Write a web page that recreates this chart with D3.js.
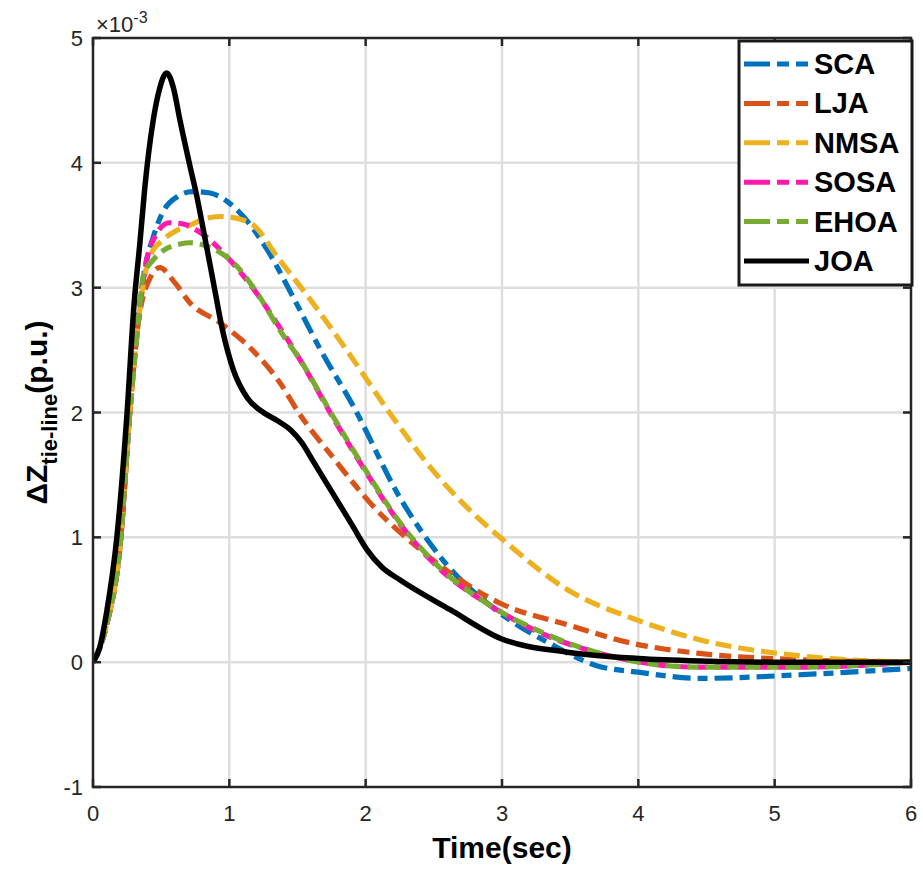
<!DOCTYPE html>
<html>
<head>
<meta charset="utf-8">
<script src="https://cdn.jsdelivr.net/npm/d3@7"></script>
<style>
  body { margin: 0; background: #fff; }
  text { font-family: "Liberation Sans", Arial, sans-serif; }
</style>
</head>
<body>
<svg id="chart" width="923" height="870"></svg>
<script>
// ---- data (values in units of 1e-3 p.u.) ----
var seriesNames = ["SCA", "LJA", "NMSA", "SOSA", "EHOA", "JOA"];
var seriesColors = ["#0072BD", "#D95319", "#EDB120", "#FF1AAE", "#77AC30", "#000000"];

var scaT = [0, 0.1, 0.2, 0.27, 0.33, 0.38, 0.44, 0.52, 0.62, 0.73, 0.85, 1.06, 1.28, 1.47, 1.67, 1.91, 2.25, 2.55, 2.99, 3.35, 3.7, 4.0, 4.45, 5.2, 6];
var scaV = [0, 0.3, 0.95, 2.0, 2.75, 3.15, 3.4, 3.62, 3.73, 3.77, 3.76, 3.62, 3.30, 2.92, 2.50, 2.05, 1.32, 0.84, 0.39, 0.15, -0.03, -0.08, -0.13, -0.10, -0.05];

var ljaT = [0, 0.1, 0.2, 0.27, 0.33, 0.42, 0.49, 0.6, 0.71, 0.93, 1.17, 1.37, 1.52, 1.76, 2.08, 2.38, 2.69, 2.99, 3.48, 3.96, 4.45, 5.19, 6];
var ljaV = [0, 0.3, 0.95, 2.0, 2.7, 3.08, 3.16, 3.04, 2.88, 2.72, 2.5, 2.24, 1.98, 1.64, 1.22, 0.92, 0.66, 0.47, 0.30, 0.15, 0.07, 0.02, 0];

var nmsaT = [0, 0.1, 0.2, 0.27, 0.33, 0.38, 0.43, 0.49, 0.6, 0.71, 0.85, 0.95, 1.15, 1.37, 1.61, 1.86, 2.2, 2.49, 2.79, 3.04, 3.48, 3.96, 4.45, 5.19, 6];
var nmsaV = [0, 0.3, 0.95, 2.0, 2.7, 3.1, 3.28, 3.36, 3.45, 3.5, 3.56, 3.57, 3.52, 3.22, 2.88, 2.5, 1.96, 1.54, 1.19, 0.95, 0.58, 0.35, 0.18, 0.05, 0];

var sosaT = [0, 0.1, 0.2, 0.27, 0.33, 0.39, 0.45, 0.56, 0.66, 0.79, 0.98, 1.17, 1.37, 1.52, 1.76, 2.01, 2.25, 2.55, 2.89, 3.23, 3.72, 4.45, 5.2, 6];
var sosaV = [0, 0.3, 0.95, 2.0, 2.7, 3.2, 3.4, 3.52, 3.51, 3.44, 3.25, 3.0, 2.68, 2.42, 1.96, 1.51, 1.11, 0.74, 0.47, 0.26, 0.07, -0.04, -0.04, 0];

var ehoaT = [0, 0.1, 0.2, 0.27, 0.33, 0.37, 0.44, 0.52, 0.64, 0.71, 0.84, 1.03, 1.22, 1.37, 1.52, 1.76, 2.01, 2.25, 2.55, 2.89, 3.23, 3.72, 4.45, 5.2, 6];
var ehoaV = [0, 0.3, 0.95, 2.0, 2.7, 3.1, 3.22, 3.3, 3.35, 3.36, 3.33, 3.2, 2.93, 2.66, 2.42, 1.97, 1.52, 1.12, 0.75, 0.47, 0.27, 0.07, -0.04, -0.04, 0];

var joaT = [0, 0.05, 0.1, 0.175, 0.25, 0.3, 0.345, 0.38, 0.44, 0.49, 0.54, 0.59, 0.64, 0.71, 0.76, 0.81, 0.88, 0.95, 1.03, 1.13, 1.25, 1.36, 1.45, 1.53, 1.62, 1.76, 1.9, 2.01, 2.12, 2.25, 2.62, 2.99, 3.48, 4.0, 4.45, 5, 6];
var joaV = [0, 0.12, 0.4, 1.0, 2.0, 2.85, 3.37, 3.8, 4.33, 4.6, 4.72, 4.6, 4.33, 3.98, 3.74, 3.46, 3.06, 2.66, 2.34, 2.12, 2.0, 1.93, 1.86, 1.76, 1.6, 1.35, 1.1, 0.90, 0.76, 0.66, 0.42, 0.19, 0.08, 0.03, 0.01, 0, 0];

var xTicks = [0, 1, 2, 3, 4, 5, 6];
var yTicks = [-1, 0, 1, 2, 3, 4, 5];

var seriesT = [scaT, ljaT, nmsaT, sosaT, ehoaT, joaT];
var seriesV = [scaV, ljaV, nmsaV, sosaV, ehoaV, joaV];

// ---- layout ----
var svg = d3.select("#chart");
var pLeft = 93, pRight = 911, pTop = 38, pBottom = 787;

var x = d3.scaleLinear().domain([0, 6]).range([pLeft, pRight]);
var y = d3.scaleLinear().domain([-1, 5]).range([pBottom, pTop]);

svg.append("defs").append("clipPath").attr("id", "plotclip")
  .append("rect")
  .attr("x", pLeft).attr("y", pTop)
  .attr("width", pRight - pLeft).attr("height", pBottom - pTop);

// grid
var grid = svg.append("g");
grid.selectAll(".vgrid").data(xTicks.slice(1, -1)).enter().append("line")
  .attr("x1", d => x(d)).attr("x2", d => x(d))
  .attr("y1", pTop).attr("y2", pBottom)
  .attr("stroke", "#dedede").attr("stroke-width", 2.5);
grid.selectAll(".hgrid").data(yTicks.slice(1, -1)).enter().append("line")
  .attr("y1", d => y(d)).attr("y2", d => y(d))
  .attr("x1", pLeft).attr("x2", pRight)
  .attr("stroke", "#dedede").attr("stroke-width", 2.5);

// curves
var lineGen = d3.line()
  .x(d => x(d[0]))
  .y(d => y(d[1]))
  .curve(d3.curveMonotoneX);

var dashes = ["18,7,10,7", "16,7,12,7", "16,7", "15,7,11,7", "15,7,11,7", null];

var curves = svg.append("g").attr("clip-path", "url(#plotclip)");
seriesNames.forEach(function(name, i) {
  var pts = seriesT[i].map((t, k) => [t, seriesV[i][k]]);
  curves.append("path")
    .datum(pts)
    .attr("d", lineGen)
    .attr("fill", "none")
    .attr("stroke", seriesColors[i])
    .attr("stroke-width", i == 5 ? 5.5 : 5.2)
    .attr("stroke-linejoin", "round")
    .attr("stroke-dasharray", dashes[i]);
});

// axes box
var axisColor = "#262626";
svg.append("rect")
  .attr("x", pLeft).attr("y", pTop)
  .attr("width", pRight - pLeft).attr("height", pBottom - pTop)
  .attr("fill", "none").attr("stroke", axisColor).attr("stroke-width", 2.5);

// ticks (inward, all four sides)
var tickLen = 8;
var ticks = svg.append("g").attr("stroke", axisColor).attr("stroke-width", 2.5);
xTicks.forEach(function(d) {
  ticks.append("line").attr("x1", x(d)).attr("x2", x(d)).attr("y1", pBottom).attr("y2", pBottom - tickLen);
  ticks.append("line").attr("x1", x(d)).attr("x2", x(d)).attr("y1", pTop).attr("y2", pTop + tickLen);
});
yTicks.forEach(function(d) {
  ticks.append("line").attr("y1", y(d)).attr("y2", y(d)).attr("x1", pLeft).attr("x2", pLeft + tickLen);
  ticks.append("line").attr("y1", y(d)).attr("y2", y(d)).attr("x1", pRight).attr("x2", pRight - tickLen);
});

// tick labels
svg.append("g").selectAll("text").data(xTicks).enter().append("text")
  .attr("x", d => x(d))
  .attr("y", pBottom + 34)
  .attr("text-anchor", "middle")
  .style("font-size", "22px")
  .style("fill", "#262626")
  .text(d => d);

svg.append("g").selectAll("text").data(yTicks).enter().append("text")
  .attr("x", pLeft - 10)
  .attr("y", d => y(d) + 8)
  .attr("text-anchor", "end")
  .style("font-size", "22px")
  .style("fill", "#262626")
  .text(d => d);

// exponent label
var expo = svg.append("text")
  .attr("x", pLeft + 3)
  .attr("y", 32)
  .style("font-size", "22px")
  .style("fill", "#262626");
expo.append("tspan").text("\u00d710");
expo.append("tspan").attr("dy", -9).style("font-size", "16px").text("-3");

// x label
svg.append("text")
  .attr("x", (pLeft + pRight) / 2)
  .attr("y", 858)
  .attr("text-anchor", "middle")
  .style("font-size", "30px")
  .style("font-weight", "bold")
  .text("Time(sec)");

// y label
var ylab = svg.append("text")
  .attr("transform", "translate(47," + ((pTop + pBottom) / 2) + ") rotate(-90)")
  .attr("text-anchor", "middle")
  .style("font-size", "30px")
  .style("font-weight", "bold");
ylab.append("tspan").text("\u0394Z");
ylab.append("tspan").attr("dy", 10).style("font-size", "22px").text("tie-line");
ylab.append("tspan").attr("dy", -10).text("(p.u.)");

// legend
var legend = svg.append("g");
legend.append("rect")
  .attr("x", 739).attr("y", 41)
  .attr("width", 173).attr("height", 244)
  .attr("fill", "#fff")
  .attr("stroke", "#1a1a1a").attr("stroke-width", 3);

var legendDashes = ["26,7,12,7,12", "26,7,12,7,12", "26,7,12,7,12", "26,7,12,7,12", "26,7,12,7,12", null];
seriesNames.forEach(function(name, i) {
  var ly = 64 + i * 39.4;
  legend.append("line")
    .attr("x1", 744).attr("x2", 809)
    .attr("y1", ly).attr("y2", ly)
    .attr("stroke", seriesColors[i])
    .attr("stroke-width", 5)
    .attr("stroke-dasharray", legendDashes[i]);
  legend.append("text")
    .attr("x", 814)
    .attr("y", ly + 10)
    .style("font-size", "29px")
    .style("font-weight", "bold")
    .text(name);
});
</script>
</body>
</html>
